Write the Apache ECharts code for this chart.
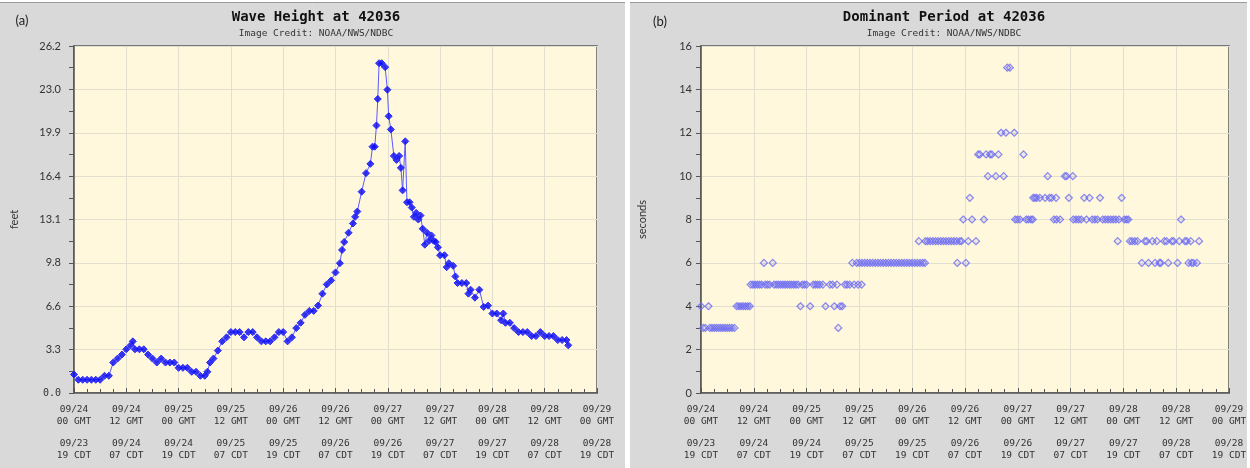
<!DOCTYPE html>
<html><head><meta charset="utf-8">
<script src="https://cdn.jsdelivr.net/npm/echarts@6/dist/echarts.min.js"></script>
<style>html,body{margin:0;padding:0;background:#fff}#c{width:1250px;height:468px}</style>
</head><body><div id="c"></div>
<script>
// time axis: hours after 09/24 00 GMT
const gmtDates = ['09/24','09/24','09/25','09/25','09/26','09/26','09/27','09/27','09/28','09/28','09/29'];
const gmtHours = ['00 GMT','12 GMT','00 GMT','12 GMT','00 GMT','12 GMT','00 GMT','12 GMT','00 GMT','12 GMT','00 GMT'];
const cdtDates = ['09/23','09/24','09/24','09/25','09/25','09/26','09/26','09/27','09/27','09/28','09/28'];
const cdtHours = ['19 CDT','07 CDT','19 CDT','07 CDT','19 CDT','07 CDT','19 CDT','07 CDT','19 CDT','07 CDT','19 CDT'];
const waveTickLabels = ['0.0','3.3','6.6','9.8','13.1','16.4','19.9','23.0','26.2'];

// (a) wave height (feet)
const waveHours = [0,1,2,3,4,5,6,7,8,9,10,11,12,13,13.5,14,15,16,17,18,19,20,21,22,23,24,25,26,27,28,29,30,30.6,31.2,32,33,34,35,36,37,38,39,40,41,42,43,44,45,46,47,48,49,50,51,52,53,54,55,56,57,58,59,60,61,61.5,62,63,64,64.5,65,66,67,68,68.5,69,69.4,69.7,70,70.6,71.4,71.9,72.2,72.7,73.4,74,74.6,75,75.4,76,76.4,77,77.5,78,78.5,79,79.5,80,80.5,81,81.5,82,82.5,83,83.5,84,85,85.5,86,87,87.5,88,89,90,90.5,91,92,93,94,95,96,97,98,98.5,99,100,101,102,103,104,105,106,107,108,109,110,111,112,113,113.4];
const waveFeet = [1.4,1.0,1.0,1.0,1.0,1.0,1.0,1.3,1.3,2.3,2.6,2.9,3.3,3.6,3.9,3.3,3.3,3.3,2.9,2.6,2.3,2.6,2.3,2.3,2.3,1.9,1.9,1.9,1.6,1.6,1.3,1.3,1.6,2.3,2.6,3.2,3.9,4.2,4.6,4.6,4.6,4.2,4.6,4.6,4.2,3.9,3.9,3.9,4.2,4.6,4.6,3.9,4.2,4.9,5.3,5.9,6.2,6.2,6.6,7.5,8.2,8.5,9.1,9.8,10.8,11.4,12.1,12.8,13.3,13.7,15.2,16.6,17.3,18.6,18.6,20.2,22.2,24.9,24.9,24.6,22.9,20.9,19.9,17.9,17.6,17.9,17.0,15.3,19.0,14.4,14.4,14.0,13.3,13.6,13.1,13.4,12.4,11.2,12.1,11.5,11.9,11.5,11.4,11.0,10.4,10.4,9.5,9.8,9.6,8.8,8.3,8.3,8.3,7.5,7.8,7.2,7.8,6.5,6.6,6.0,6.0,5.5,6.0,5.3,5.3,4.9,4.6,4.6,4.6,4.3,4.3,4.6,4.3,4.3,4.3,4.0,4.0,4.0,3.6];

// (b) dominant period (seconds): [hour, seconds]
const periodObs = [[0,4],[0.5,3],[1.0,3],[1.7,4],[2.0,3],[2.5,3],[3.0,3],[3.5,3],[4.0,3],[4.5,3],[5.0,3],[5.5,3],[6.0,3],[6.5,3],[7.0,3],[7.6,3],[8.1,4],[8.6,4],[9.1,4],[9.6,4],[10.1,4],[10.6,4],[11.1,4],[11.3,5],[11.8,5],[12.3,5],[12.8,5],[13.3,5],[13.8,5],[14.3,6],[14.6,5],[15.1,5],[15.6,5],[16.3,6],[16.6,5],[17.1,5],[17.6,5],[18.1,5],[18.6,5],[19.1,5],[19.6,5],[20.1,5],[20.6,5],[21.1,5],[21.6,5],[22.1,5],[22.6,4],[23.0,5],[23.5,5],[24.0,5],[24.8,4],[25.5,5],[26.0,5],[26.5,5],[27.0,5],[27.7,5],[28.3,4],[29.3,5],[29.9,5],[30.3,4],[30.9,5],[31.2,3],[31.6,4],[32.1,4],[32.7,5],[33.2,5],[33.8,5],[34.4,6],[34.8,5],[35.4,6],[35.7,5],[36.0,6],[36.5,5],[36.6,6],[37.2,6],[37.8,6],[38.4,6],[39.0,6],[39.6,6],[40.2,6],[40.8,6],[41.4,6],[42.0,6],[42.6,6],[43.2,6],[43.8,6],[44.4,6],[45.0,6],[45.6,6],[46.2,6],[46.8,6],[47.4,6],[48.0,6],[48.6,6],[49.2,6],[49.5,7],[49.8,6],[50.4,6],[50.9,6],[51.0,7],[51.5,7],[52.1,7],[52.7,7],[53.3,7],[53.9,7],[54.5,7],[55.1,7],[55.7,7],[56.3,7],[56.9,7],[57.5,7],[58.1,7],[58.25,6],[58.8,7],[59.2,7],[59.6,8],[60.2,6],[60.75,7],[61.1,9],[61.6,8],[62.5,7],[63.0,11],[63.4,11],[64.3,8],[64.8,11],[65.2,10],[65.7,11],[66.1,11],[67.0,10],[67.6,11],[68.2,12],[68.8,10],[69.3,12],[69.6,15],[70.2,15],[71.2,12],[71.4,8],[71.9,8],[72.5,8],[73.3,11],[73.9,8],[74.4,8],[75.0,8],[75.4,8],[75.5,9],[75.9,9],[76.3,9],[77.0,9],[78.2,9],[78.8,10],[79.2,9],[79.7,9],[80.2,8],[80.7,9],[80.8,8],[81.6,8],[82.7,10],[83.1,10],[83.6,9],[84.5,10],[84.6,8],[85.2,8],[85.8,8],[86.4,8],[87.1,9],[87.6,8],[88.3,9],[88.9,8],[89.5,8],[90.1,8],[90.7,9],[91.3,8],[91.9,8],[92.5,8],[93.1,8],[93.7,8],[94.3,8],[94.7,7],[95.0,8],[95.6,9],[96.2,8],[96.7,8],[97.1,8],[97.5,7],[98.0,7],[98.6,7],[99.2,7],[100.2,6],[100.9,7],[101.3,7],[101.7,6],[102.6,7],[103.2,6],[103.6,7],[104.2,6],[104.5,6],[105.3,7],[105.8,7],[106.2,6],[107.0,7],[107.4,7],[108.3,6],[108.7,7],[109.1,8],[110.0,7],[110.4,7],[110.8,6],[111.3,7],[111.5,6],[111.9,6],[112.7,6],[113.2,7]];

const MONO = '"DejaVu Sans Mono", "Liberation Mono", monospace';
const SANS = 'Lato, "Open Sans", sans-serif';
const TXT = '#333';

function xAxisFor(gridIndex) {
  return {
    type: 'value', gridIndex, min: 0, max: 120, interval: 12,
    axisLine: { show: true, lineStyle: { color: '#555', width: 1.5 } },
    axisTick: { show: true, inside: true, length: 5, lineStyle: { color: '#555' } },
    minorTick: { show: true, splitNumber: 4, length: 4, lineStyle: { color: '#555' } },
    splitLine: { show: true, lineStyle: { color: '#e3dfcf', width: 1 } },
    axisLabel: {
      showMinLabel: true, showMaxLabel: true, margin: 11, verticalAlign: 'top',
      formatter: v => {
        const i = Math.round(v / 12);
        return '{a|' + gmtDates[i] + '}\n{a|' + gmtHours[i] + '}\n{g| }\n{a|' + cdtDates[i] + '}\n{a|' + cdtHours[i] + '}';
      },
      rich: {
        a: { fontFamily: MONO, fontSize: 9.5, color: TXT, lineHeight: 12 },
        g: { fontSize: 6, lineHeight: 10 }
      }
    }
  };
}

const chart = echarts.init(document.getElementById('c'), null, { renderer: 'canvas' });
chart.setOption({
  animation: false,
  backgroundColor: '#ffffff',
  graphic: [
    { type: 'rect', z: -10, shape: { x: 0, y: 2, width: 625, height: 466 }, style: { fill: '#d9d9d9' } },
    { type: 'rect', z: -10, shape: { x: 630, y: 2, width: 617, height: 466 }, style: { fill: '#d9d9d9' } },
    { type: 'line', z: -9, shape: { x1: 0, y1: 2.5, x2: 625, y2: 2.5 }, style: { stroke: '#9a9a9a', lineWidth: 1 } },
    { type: 'line', z: -9, shape: { x1: 630, y1: 2.5, x2: 1247, y2: 2.5 }, style: { stroke: '#9a9a9a', lineWidth: 1 } },
    { type: 'text', x: 316, y: 17, style: { text: 'Wave Height at 42036', font: 'bold 14px ' + MONO, fill: '#111', textAlign: 'center', textVerticalAlign: 'middle' } },
    { type: 'text', x: 316, y: 34, style: { text: 'Image Credit: NOAA/NWS/NDBC', font: '9.5px ' + MONO, fill: TXT, textAlign: 'center', textVerticalAlign: 'middle' } },
    { type: 'text', x: 22, y: 21, style: { text: '(a)', font: '13px ' + SANS, fill: '#222', textAlign: 'center', textVerticalAlign: 'middle' } },
    { type: 'text', x: 944, y: 17, style: { text: 'Dominant Period at 42036', font: 'bold 14px ' + MONO, fill: '#111', textAlign: 'center', textVerticalAlign: 'middle' } },
    { type: 'text', x: 944, y: 34, style: { text: 'Image Credit: NOAA/NWS/NDBC', font: '9.5px ' + MONO, fill: TXT, textAlign: 'center', textVerticalAlign: 'middle' } },
    { type: 'text', x: 660, y: 22, style: { text: '(b)', font: '13px ' + SANS, fill: '#222', textAlign: 'center', textVerticalAlign: 'middle' } }
  ],
  grid: [
    { left: 74, top: 46, width: 523, height: 347, show: true, backgroundColor: '#fff8dc', borderColor: '#555', borderWidth: 1.5 },
    { left: 701, top: 46, width: 528, height: 347, show: true, backgroundColor: '#fff8dc', borderColor: '#555', borderWidth: 1.5 }
  ],
  xAxis: [xAxisFor(0), xAxisFor(1)],
  yAxis: [
    {
      type: 'value', gridIndex: 0, min: 0, max: 26.2, interval: 3.275,
      name: 'feet', nameLocation: 'middle', nameGap: 54, nameRotate: 90,
      nameTextStyle: { fontFamily: SANS, fontSize: 11, color: TXT },
      axisLine: { show: true, lineStyle: { color: '#555', width: 1.5 } },
      axisTick: { show: true, inside: false, length: 5, lineStyle: { color: '#555' } },
      minorTick: { show: true, splitNumber: 2, length: 5, lineStyle: { color: '#555' } },
      splitLine: { show: true, lineStyle: { color: '#e3dfcf', width: 1 } },
      axisLabel: {
        margin: 13, fontFamily: SANS, fontSize: 11, color: TXT,
        formatter: v => { const i = Math.round(v / 3.275); return i === 0 ? '{m|' + waveTickLabels[0] + '}' : waveTickLabels[i]; },
        rich: { m: { fontFamily: MONO, fontSize: 10, color: TXT } }
      }
    },
    {
      type: 'value', gridIndex: 1, min: 0, max: 16, interval: 2,
      name: 'seconds', nameLocation: 'middle', nameGap: 53, nameRotate: 90,
      nameTextStyle: { fontFamily: SANS, fontSize: 11, color: TXT },
      axisLine: { show: true, lineStyle: { color: '#555', width: 1.5 } },
      axisTick: { show: true, inside: false, length: 5, lineStyle: { color: '#555' } },
      minorTick: { show: true, splitNumber: 2, length: 5, lineStyle: { color: '#555' } },
      splitLine: { show: true, lineStyle: { color: '#e3dfcf', width: 1 } },
      axisLabel: { margin: 9, fontFamily: SANS, fontSize: 11, color: TXT }
    }
  ],
  series: [
    {
      type: 'line', xAxisIndex: 0, yAxisIndex: 0,
      data: waveHours.map((h, i) => [h, waveFeet[i]]),
      symbol: 'diamond', symbolSize: 7, showSymbol: true,
      lineStyle: { color: '#5a5aff', width: 1 },
      itemStyle: { color: 'rgba(10,10,240,0.8)', borderColor: '#2a2aff', borderWidth: 1 },
      z: 3
    },
    {
      type: 'scatter', xAxisIndex: 1, yAxisIndex: 1,
      data: periodObs,
      symbol: 'diamond', symbolSize: 7,
      itemStyle: { color: 'rgba(90,90,255,0.12)', borderColor: '#6a6af2', borderWidth: 1.2 },
      z: 3
    }
  ]
});
</script></body></html>
